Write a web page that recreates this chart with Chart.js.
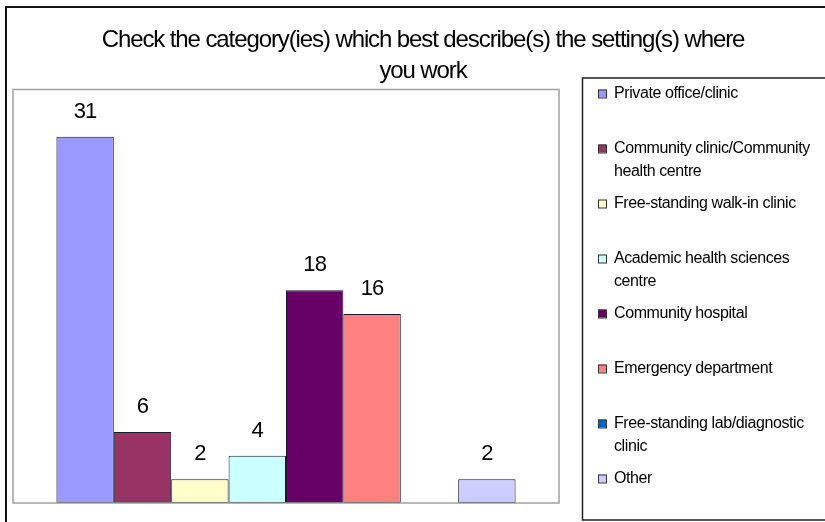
<!DOCTYPE html>
<html>
<head>
<meta charset="utf-8">
<script src="https://cdn.jsdelivr.net/npm/chart.js@4/dist/chart.umd.min.js"></script>
<style>
  html, body { margin: 0; padding: 0; background: #ffffff; }
  #chart { display: block; }
</style>
</head>
<body>
<canvas id="chart" width="825" height="522"></canvas>
<script>
// Survey question and answers
const titleLines = ['Check the category(ies) which best describe(s) the setting(s) where', 'you work'];
const categories = [''];
const settingNames = [
  'Private office/clinic',
  'Community clinic/Community health centre',
  'Free-standing walk-in clinic',
  'Academic health sciences centre',
  'Community hospital',
  'Emergency department',
  'Free-standing lab/diagnostic clinic',
  'Other'
];
// Legend line breaks for each setting name
const legendLines = [
  ['Private office/clinic'],
  ['Community clinic/Community', 'health centre'],
  ['Free-standing walk-in clinic'],
  ['Academic health sciences', 'centre'],
  ['Community hospital'],
  ['Emergency department'],
  ['Free-standing lab/diagnostic', 'clinic'],
  ['Other']
];
const responseCounts = [31, 6, 2, 4, 18, 16, null, 2];
const settingColors = ['#9999FF', '#993366', '#FFFFCC', '#CCFFFF', '#660066', '#FF8080', '#0066CC', '#CCCCFF'];
const yMin = 0;
const yMax = 35;

const FONT = '"Liberation Sans", Arial, sans-serif';

const datasets = settingNames.map((name, i) => ({
  label: name,
  data: [responseCounts[i]],
  backgroundColor: settingColors[i],
  borderColor: '#1a1a2a',
  borderWidth: 1,
  borderSkipped: false,
  categoryPercentage: 0.841,
  barPercentage: 1.0
}));

const frame = {
  id: 'frame',
  beforeDraw(chart) {
    const ctx = chart.ctx;
    ctx.save();
    ctx.fillStyle = '#ffffff';
    ctx.fillRect(0, 0, chart.width, chart.height);
    // outer chart border (left and top edges visible)
    ctx.strokeStyle = '#111111';
    ctx.lineWidth = 2;
    ctx.strokeRect(6, 7, chart.width + 20, chart.height + 20);
    // title
    ctx.fillStyle = '#000000';
    ctx.font = '24px ' + FONT;
    ctx.letterSpacing = '-1.1px';
    ctx.textAlign = 'center';
    ctx.textBaseline = 'alphabetic';
    ctx.fillText(titleLines[0], 423, 47);
    ctx.fillText(titleLines[1], 423, 78);
    ctx.restore();
  },
  afterDatasetsDraw(chart) {
    const ctx = chart.ctx;
    const a = chart.chartArea;
    ctx.save();
    // plot area border
    ctx.strokeStyle = '#a0a0a0';
    ctx.lineWidth = 1.5;
    ctx.strokeRect(a.left, a.top, a.right - a.left, a.bottom - a.top);
    // value labels above the bars
    ctx.fillStyle = '#000000';
    ctx.font = '22px ' + FONT;
    ctx.letterSpacing = '-0.8px';
    ctx.textAlign = 'center';
    ctx.textBaseline = 'alphabetic';
    chart.data.datasets.forEach((ds, i) => {
      const meta = chart.getDatasetMeta(i);
      meta.data.forEach((bar, j) => {
        const v = ds.data[j];
        if (v === null || v === undefined) return;
        ctx.fillText(String(v), bar.x, bar.y - 19);
      });
    });
    ctx.restore();
  },
  afterDraw(chart) {
    const ctx = chart.ctx;
    ctx.save();
    // legend box
    ctx.strokeStyle = '#222222';
    ctx.lineWidth = 1.5;
    ctx.strokeRect(582.5, 78, 300, 442);
    ctx.font = '16px ' + FONT;
    ctx.letterSpacing = '-0.4px';
    ctx.textAlign = 'left';
    ctx.textBaseline = 'middle';
    chart.data.datasets.forEach((ds, i) => {
      const y = 93.5 + i * 55;
      ctx.fillStyle = ds.backgroundColor;
      ctx.fillRect(598, y - 4, 8, 8);
      ctx.strokeStyle = '#333333';
      ctx.lineWidth = 1;
      ctx.strokeRect(598.5, y - 3.5, 8, 8);
      ctx.fillStyle = '#000000';
      legendLines[i].forEach((line, k) => {
        ctx.fillText(line, 614, y + k * 23.5);
      });
    });
    ctx.restore();
  }
};

new Chart(document.getElementById('chart'), {
  type: 'bar',
  data: { labels: categories, datasets: datasets },
  options: {
    responsive: false,
    devicePixelRatio: 1,
    animation: false,
    layout: { padding: { left: 13, top: 89.5, right: 266, bottom: 19 } },
    scales: {
      x: { display: false, grid: { display: false } },
      y: { display: false, min: yMin, max: yMax, grid: { display: false } }
    },
    plugins: {
      legend: { display: false },
      title: { display: false },
      tooltip: { enabled: false }
    }
  },
  plugins: [frame]
});
</script>
</body>
</html>
